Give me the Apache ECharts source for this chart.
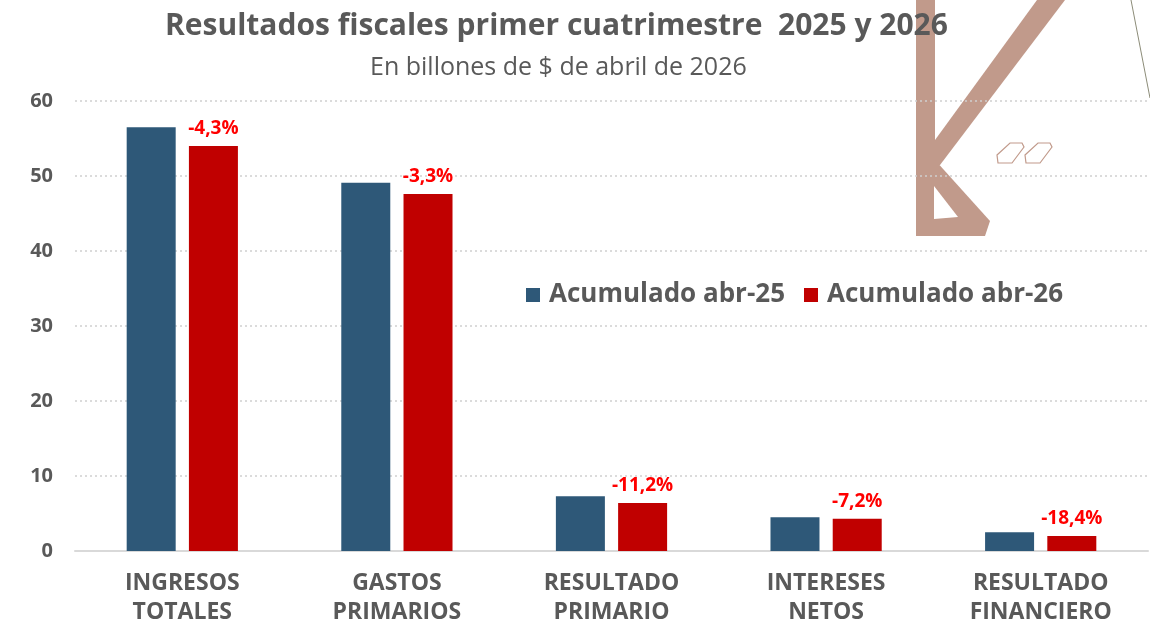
<!DOCTYPE html>
<html>
<head>
<meta charset="utf-8">
<script src="https://cdn.jsdelivr.net/npm/echarts@6/dist/echarts.min.js"></script>
<style>
    html, body { margin: 0; padding: 0; background: #fff; }
    #main { width: 1150px; height: 623px; }
</style>
</head>
<body>
<div id="main"></div>
<script>
var categories = ['INGRESOS\nTOTALES', 'GASTOS\nPRIMARIOS', 'RESULTADO\nPRIMARIO', 'INTERESES\nNETOS', 'RESULTADO\nFINANCIERO'];
var acum25 = [56.5, 49.1, 7.3, 4.5, 2.5];
var acum26 = [54.0, 47.6, 6.4, 4.3, 2.0];
var pctLabels = ['-4,3%', '-3,3%', '-11,2%', '-7,2%', '-18,4%'];
var yTicks = [0, 10, 20, 30, 40, 50, 60];

var gray = '#595959';
var logoColor = '#c19a8b';
var font = 'Open Sans';

var main = echarts.init(document.getElementById('main'));
main.setOption({
    animation: false,
    backgroundColor: '#ffffff',
    title: [{
        text: 'Resultados fiscales primer cuatrimestre  2025 y 2026',
        left: 160,
        top: 6,
        textStyle: { fontFamily: font, fontWeight: 'bold', fontSize: 30, color: gray }
    }, {
        text: 'En billones de $ de abril de 2026',
        left: 365,
        top: 50,
        textStyle: { fontFamily: font, fontWeight: 'normal', fontSize: 25, color: gray }
    }],
    legend: {
        left: 521,
        top: 277,
        icon: 'rect',
        itemWidth: 14,
        itemHeight: 14,
        itemGap: 19,
        textStyle: { fontFamily: font, fontWeight: 'bold', fontSize: 26, color: gray, padding: [0, 0, 0, 4] }
    },
    grid: { left: 75, right: 2, top: 101, bottom: 72, containLabel: false, outerBoundsMode: 'none' },
    xAxis: {
        type: 'category',
        data: categories,
        axisTick: { show: false },
        axisLine: { lineStyle: { color: '#d9d9d9', width: 2 } },
        axisLabel: {
            interval: 0,
            margin: 18,
            fontFamily: font,
            fontWeight: 'bold',
            fontSize: 23,
            lineHeight: 29,
            color: gray
        }
    },
    yAxis: {
        type: 'value',
        min: yTicks[0],
        max: yTicks[yTicks.length - 1],
        interval: 10,
        axisLabel: {
            margin: 22,
            fontFamily: font,
            fontWeight: 'bold',
            fontSize: 20,
            color: gray
        },
        splitLine: { lineStyle: { color: '#cfcfcf', width: 1.5, type: [2, 3] } }
    },
    graphic: [
        // logo de fondo
        { type: 'polygon', z: -1, shape: { points: [[916, 0], [935, 0], [935, 236], [916, 236]] }, style: { fill: logoColor } },
        { type: 'polygon', z: -1, shape: { points: [[1037, 0], [1065, 0], [940, 165], [935, 165], [935, 140]] }, style: { fill: logoColor } },
        { type: 'polygon', z: -1, shape: { points: [[935, 160], [990, 221], [985, 236], [935, 236]] }, style: { fill: logoColor } },
        { type: 'polygon', z: -1, shape: { points: [[934, 186], [958, 217], [934, 219]] }, style: { fill: '#ffffff' } },
        { type: 'polygon', z: -1, shape: { points: [[997, 155], [1010, 143], [1022, 143], [1024, 147], [1012, 163], [998, 163]] }, style: { fill: 'none', stroke: logoColor, lineWidth: 1.2 } },
        { type: 'polygon', z: -1, shape: { points: [[1025, 155], [1038, 143], [1050, 143], [1052, 147], [1040, 163], [1026, 163]] }, style: { fill: 'none', stroke: logoColor, lineWidth: 1.2 } },
        { type: 'polyline', z: -1, shape: { points: [[1131, 0], [1150, 98]] }, style: { stroke: '#8c8c78', lineWidth: 1 } }
    ],
    series: [
        {
            name: 'Acumulado abr-25',
            type: 'bar',
            data: acum25,
            barWidth: 49,
            barGap: '27%',
            itemStyle: { color: '#2e5878' }
        },
        {
            name: 'Acumulado abr-26',
            type: 'bar',
            data: acum26,
            barWidth: 49,
            itemStyle: { color: '#c00000' },
            label: {
                show: true,
                position: 'top',
                distance: 8,
                fontFamily: font,
                fontWeight: 'bold',
                fontSize: 19,
                color: '#ff0000',
                formatter: function (p) {
                    return pctLabels[p.dataIndex];
                }
            }
        }
    ]
});
</script>
</body>
</html>
